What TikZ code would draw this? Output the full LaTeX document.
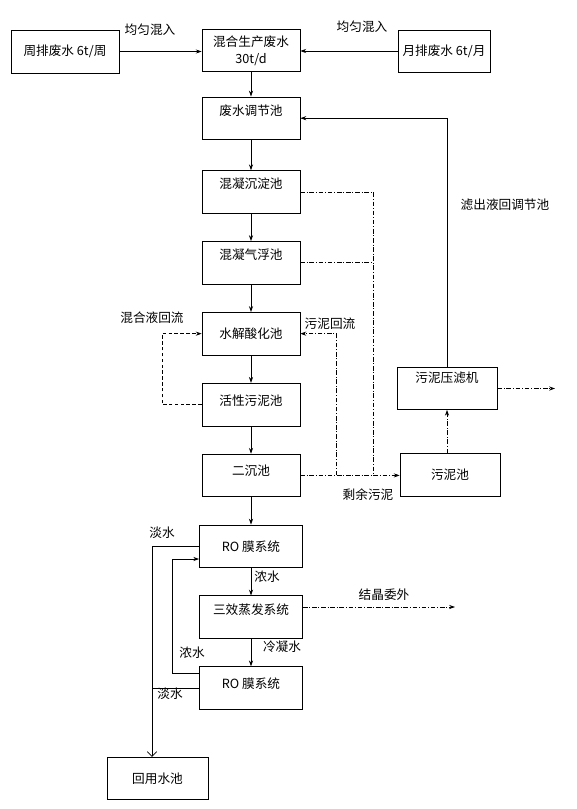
\documentclass[tikz,border=0pt]{standalone}
\usepackage{fontspec}
\setmainfont{Noto Sans CJK SC}
\usetikzlibrary{positioning, arrows.meta}

\tikzset{
  caja/.style={draw, minimum width=2.94cm, minimum height=1.28cm, inner sep=1pt, align=center},
  arriba/.style={text height=8pt, text depth=#1},
  arriba/.default=13pt,
  raya punto/.style={dash pattern=on 4pt off 1.5pt on 0.8pt off 1.5pt},
  rayas/.style={dash pattern=on 3pt off 2pt},
}

\begin{document}
\begin{tikzpicture}[x=0.03cm, y=-0.03cm, >={Stealth[length=5pt,width=3.5pt]}, line width=0.6pt, node distance=0.825cm, font=\fontsize{10.8}{14.5}\selectfont]
  \useasboundingbox (0,0) rectangle (576,809);

  % Entradas de agua residual
  \node[caja] (mezcla) at (251,50.5) {混合生产废水\\30t/d};
  \node[caja, minimum width=3.24cm, minimum height=1.29cm] (semanal) at (65,51.5) {周排废水 6t/周};
  \node[caja, minimum width=2.76cm, minimum height=1.26cm] (mensual) at (444,51) {月排废水 6t/月};

  % Linea principal
  \node[caja, arriba, below=0.73cm of mezcla] (regul) {废水调节池};
  \node[caja, arriba, below=0.91cm of regul] (coag) {混凝沉淀池};
  \node[caja, arriba, below=of coag] (flot) {混凝气浮池};
  \node[caja, below=of flot] (hidro) {水解酸化池};
  \node[caja, arriba=7pt, below=of hidro] (activo) {活性污泥池};
  \node[caja, arriba=7pt, below=of activo] (secund) {二沉池};
  \node[caja, minimum width=3.09cm, below=of secund] (ro1) {RO 膜系统};
  \node[caja, arriba, minimum width=3.09cm, below=of ro1] (evap) {三效蒸发系统};
  \node[caja, arriba=7pt, minimum width=3.09cm, below=of evap] (ro2) {RO 膜系统};
  \node[caja, minimum width=3.03cm] (reuso) at (157.5,778.5) {回用水池};

  % Lodos
  \node[caja, minimum width=3cm] (fango) at (450,475) {污泥池};
  \node[caja, arriba=18pt, minimum width=3cm, minimum height=1.26cm] (prensa) at (447,388.5) {污泥压滤机};

  % Puntos auxiliares
  \coordinate (bajada) at (373,0);
  \coordinate (retorno) at (336,0);
  \coordinate (mezclaliq) at (162,0);
  \coordinate (salida1) at (555,388.5);
  \coordinate (salida2) at (455,607);
  \coordinate (k1) at (172,673);
  \coordinate (k2) at (172,559);
  \coordinate (d1) at (152,546);
  \coordinate (d2) at (152,688);

  % Etiquetas
  \node (ljunyun1) at (150,30) {均匀混入};
  \node (ljunyun2) at (362,27) {均匀混入};
  \node (lretorno) at (330,324) {污泥回流};
  \node (lmezclaliq) at (152,318) {混合液回流};
  \node (lsobrante) at (368,495) {剩余污泥};
  \node (lfiltrado) at (505,205) {滤出液回调节池};
  \node (lcristal) at (384,595) {结晶委外};
  \node (lnong1) at (267,577) {浓水};
  \node (lcond) at (282,647) {冷凝水};
  \node (lnong2) at (192,653) {浓水};
  \node (ldan1) at (162,533) {淡水};
  \node (ldan2) at (170,694) {淡水};

  % Flujo del agua
  \draw[->] (semanal.east) -- (semanal.east -| mezcla.west);
  \draw[->] (mensual.west) -- (mensual.west -| mezcla.east);
  \draw[->] (mezcla) -- (regul);
  \draw[->] (regul) -- (coag);
  \draw[->] (coag) -- (flot);
  \draw[->] (flot) -- (hidro);
  \draw[->] (hidro) -- (activo);
  \draw[->] (activo) -- (secund);
  \draw[->] (secund) -- (ro1);
  \draw[->] (ro1) -- (evap);
  \draw[->] (evap) -- (ro2);

  % Retornos y lodos
  \draw[raya punto] (coag.east) -- (coag.east -| bajada) -- (secund.east -| bajada);
  \draw[raya punto] (flot.east) -- (flot.east -| bajada);
  \draw[raya punto, ->] (secund.east) -- (secund.east -| fango.west);
  \draw[raya punto, ->] (secund.east -| retorno) |- (hidro.east);
  \draw[rayas, ->] (activo.west) -- (activo.west -| mezclaliq) |- (hidro.west);
  \draw[raya punto, ->] (fango.north -| prensa.south) -- (prensa.south);
  \draw[->] (prensa.north) |- (regul.east);
  \draw[raya punto, ->] (prensa.east) -- (salida1);
  \draw[raya punto, ->] (evap.east |- salida2) -- (salida2);

  % Osmosis inversa
  \draw[->] (ro2.west |- k1) -- (k1) -- (k2) -- (ro1.west |- k2);
  \draw (ro1.west |- d1) -- (d1);
  \draw (ro2.west |- d2) -- (d2);
  \draw[-{Straight Barb[length=4pt,width=8pt]}] (d1) -- (reuso.north -| d1);
\end{tikzpicture}
\end{document}
